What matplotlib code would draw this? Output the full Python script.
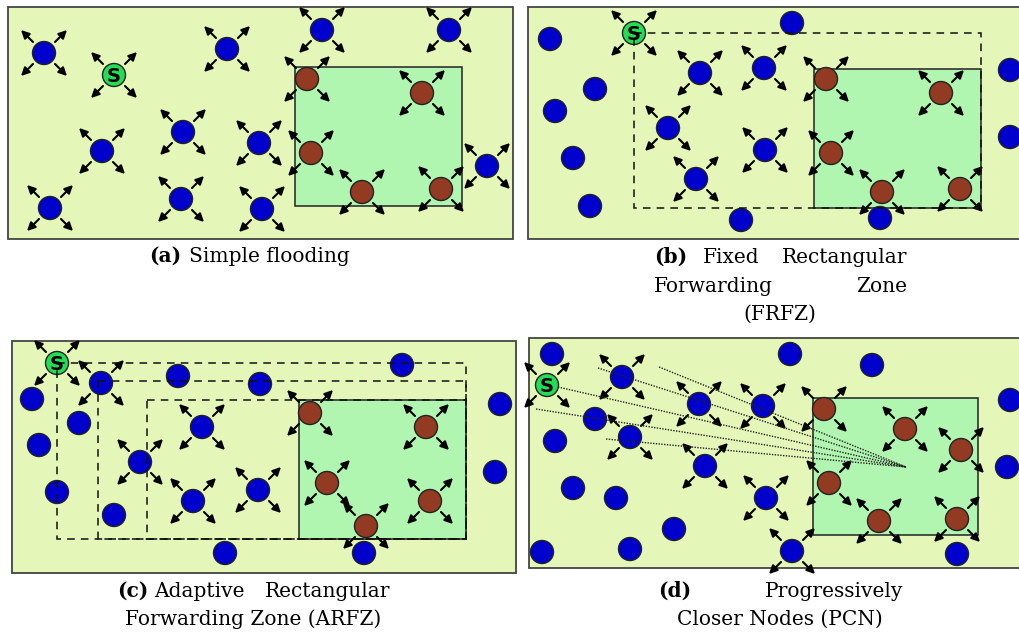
import matplotlib.pyplot as plt
from matplotlib.patches import Rectangle, Circle

# canvas in pixel units (y grows downward)
W, H = 1019, 634
R = 11.5

# ---- panel (a) simple flooding
a_frame = (8, 7, 513, 239)
a_zone = (295, 67, 462, 206)
a_source = (114, 75)
a_blue_fwd = [(44, 53), (227, 49), (322, 30), (449, 30), (102, 151), (183, 132),
              (259, 143), (50, 208), (181, 199), (262, 209), (487, 166)]
a_blue_idle = []
a_brown = [(307, 79), (422, 93), (311, 153), (362, 192), (441, 189)]
a_dashed = []

# ---- panel (b) FRFZ
b_frame = (528, 7, 1040, 239)
b_zone = (814, 69, 981, 208)
b_source = (634, 33)
b_blue_fwd = [(700, 73), (764, 68), (668, 128), (765, 150), (696, 179)]
b_blue_idle = [(550, 39), (792, 23), (595, 89), (555, 111), (573, 158), (590, 206),
               (741, 220), (880, 218), (1010, 70), (1010, 137)]
b_brown = [(826, 79), (941, 93), (831, 153), (882, 192), (960, 189)]
b_dashed = [(634, 33, 981, 208)]

# ---- panel (c) ARFZ
c_frame = (12, 341, 516, 573)
c_zone = (299, 400, 466, 539)
c_source = (57, 363)
c_blue_fwd = [(101, 383), (202, 427), (140, 462), (193, 501), (258, 490)]
c_blue_idle = [(32, 399), (79, 423), (39, 445), (57, 492), (114, 515), (178, 376),
               (260, 384), (402, 365), (225, 553), (364, 553), (500, 404), (495, 472)]
c_brown = [(310, 413), (426, 427), (327, 483), (430, 501), (366, 526)]
c_dashed = [(57, 363, 466, 539), (98, 381, 466, 539), (147, 400, 466, 539)]

# ---- panel (d) PCN
d_frame = (529, 338, 1040, 568)
d_zone = (813, 398, 978, 535)
d_source = (547, 385)
d_blue_fwd = [(622, 377), (699, 404), (763, 406), (630, 437), (705, 466), (766, 498),
              (792, 551)]
d_blue_idle = [(552, 354), (790, 354), (872, 365), (595, 419), (555, 441), (573, 488),
               (616, 498), (674, 529), (542, 552), (630, 549), (957, 554), (1010, 400),
               (1007, 467)]
d_brown = [(824, 409), (905, 429), (961, 450), (829, 483), (879, 521), (957, 519)]
d_dashed = []
d_target = (906, 467)
d_rays = [(536, 409), (558, 387), (598, 368), (659, 367), (606, 439)]

BG = '#e5f7b8'
ZONE = '#b0f5b0'
BLUE = '#0000cc'
BROWN = '#933a22'
SRC = '#22dd55'


def arrows(ax, cx, cy):
    for sx in (-1, 1):
        for sy in (-1, 1):
            ax.annotate('', xy=(cx + 23 * sx, cy + 23 * sy),
                        xytext=(cx + 11 * sx, cy + 11 * sy),
                        arrowprops=dict(arrowstyle='-|>', color='black', lw=1.5,
                                        mutation_scale=12, shrinkA=0, shrinkB=0),
                        zorder=3)


def node(ax, cx, cy, color):
    ax.add_patch(Circle((cx, cy), R, facecolor=color, edgecolor='#222222',
                        lw=1.0, zorder=4))


def panel(ax, frame, zone, source, blue_fwd, blue_idle, brown, dashed):
    x0, y0, x1, y1 = frame
    ax.add_patch(Rectangle((x0, y0), x1 - x0, y1 - y0, facecolor=BG,
                           edgecolor='#444444', lw=1.3, zorder=1))
    zx0, zy0, zx1, zy1 = zone
    ax.add_patch(Rectangle((zx0, zy0), zx1 - zx0, zy1 - zy0, facecolor=ZONE,
                           edgecolor='#222222', lw=1.1, zorder=2))
    for (cx, cy) in blue_fwd:
        arrows(ax, cx, cy)
        node(ax, cx, cy, BLUE)
    for (cx, cy) in blue_idle:
        node(ax, cx, cy, BLUE)
    for (cx, cy) in brown:
        arrows(ax, cx, cy)
        node(ax, cx, cy, BROWN)
    arrows(ax, *source)
    node(ax, source[0], source[1], SRC)
    ax.text(source[0], source[1] + 1, 'S', ha='center', va='center', fontsize=14,
            fontweight='bold', color='black', zorder=7)
    for (dx0, dy0, dx1, dy1) in dashed:
        ax.add_patch(Rectangle((dx0, dy0), dx1 - dx0, dy1 - dy0, fill=False,
                               edgecolor='#111111', lw=1.1, ls=(0, (5, 4)), zorder=5))


fig = plt.figure(figsize=(W / 100, H / 100), dpi=100)
ax = fig.add_axes([0, 0, 1, 1])
ax.set_xlim(0, W)
ax.set_ylim(H, 0)
ax.axis('off')

panel(ax, a_frame, a_zone, a_source, a_blue_fwd, a_blue_idle, a_brown, a_dashed)
panel(ax, b_frame, b_zone, b_source, b_blue_fwd, b_blue_idle, b_brown, b_dashed)
panel(ax, c_frame, c_zone, c_source, c_blue_fwd, c_blue_idle, c_brown, c_dashed)
panel(ax, d_frame, d_zone, d_source, d_blue_fwd, d_blue_idle, d_brown, d_dashed)

for (rx, ry) in d_rays:
    ax.plot([rx, d_target[0]], [ry, d_target[1]], color='#222222', lw=1.0,
            ls=(0, (1, 1)), zorder=6)

# captions
cap = dict(family='DejaVu Serif', fontsize=14.5, va='baseline', color='black')
ax.text(149, 262, '(a)', ha='left', fontweight='bold', **cap)
ax.text(350, 262, 'Simple flooding', ha='right', **cap)

ax.text(654, 263, '(b)', ha='left', fontweight='bold', **cap)
ax.text(703, 263, 'Fixed', ha='left', **cap)
ax.text(907, 263, 'Rectangular', ha='right', **cap)
ax.text(654, 292, 'Forwarding', ha='left', **cap)
ax.text(907, 292, 'Zone', ha='right', **cap)
ax.text(780, 320, '(FRFZ)', ha='center', **cap)

ax.text(117, 597, '(c)', ha='left', fontweight='bold', **cap)
ax.text(154, 597, 'Adaptive', ha='left', **cap)
ax.text(390, 597, 'Rectangular', ha='right', **cap)
ax.text(253, 625, 'Forwarding Zone (ARFZ)', ha='center', **cap)

ax.text(658, 597, '(d)', ha='left', fontweight='bold', **cap)
ax.text(903, 597, 'Progressively', ha='right', **cap)
ax.text(780, 625, 'Closer Nodes (PCN)', ha='center', **cap)

fig.savefig('out.png', dpi=100)
